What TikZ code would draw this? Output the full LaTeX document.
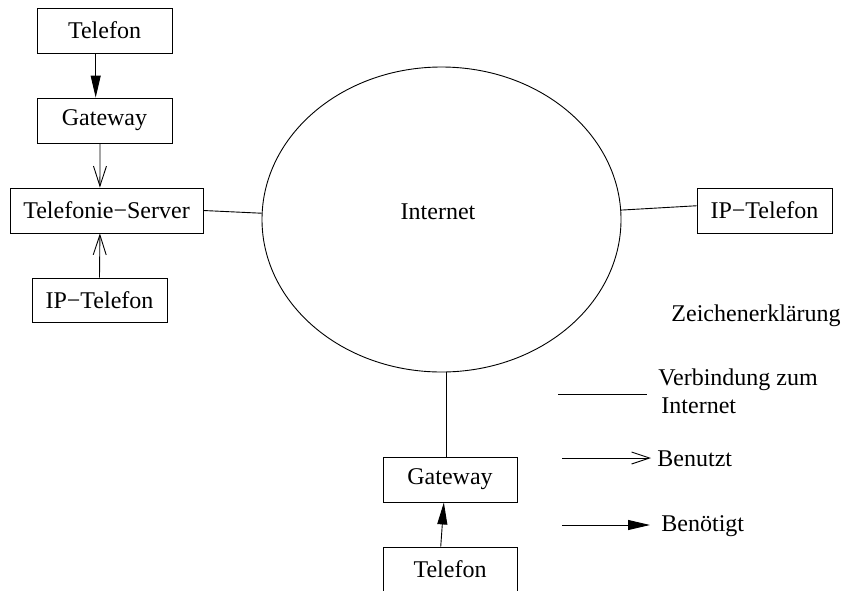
\documentclass[tikz,border=0pt]{standalone}
\usepackage{fontspec}
\setmainfont{Liberation Serif}
\usetikzlibrary{arrows.meta,shapes.geometric}
\begin{document}
\begin{tikzpicture}[x=1pt,y=-1pt,
  font=\fontsize{24}{28}\selectfont,
  line width=0.9pt,
  box/.style={draw,rectangle,inner sep=0pt,minimum height=45pt},
  label/.style={inner sep=0pt,anchor=west},
  uses/.style={-{Straight Barb[length=20pt,width=13pt,line width=0.9pt]}},
  needs/.style={-{Triangle[length=22pt,width=10pt]}}]
\useasboundingbox (0,0) rectangle (843,590);

% devices
\node[box,minimum width=135pt] (tel1) at (104.5,30.5) {Telefon};
\node[box,minimum width=135pt] (gw1) at (104.5,120.5) {Gateway};
\node[box,minimum width=193pt] (srv) at (106.5,210.5) {Telefonie−Server};
\node[box,minimum width=135pt,minimum height=44pt] (ip1) at (99.5,300) {IP−Telefon};
\node[box,minimum width=135pt] (ip2) at (764.5,210.5) {IP−Telefon};
\node[box,minimum width=134pt] (gw2) at (450,479.5) {Gateway};
\node[box,minimum width=134pt] (tel2) at (450,569.5) {Telefon};

% the network cloud
\node[draw,ellipse,inner sep=0pt,minimum width=359pt,minimum height=305pt] (net) at (441.5,219.5) {};
\node[inner sep=0pt] (netlbl) at (438,212) {Internet};

% connections
\draw[needs] (tel1.249) -- (gw1.111);
\draw[uses] (gw1.259) -- (srv.106);
\draw[uses] (ip1.north) -- (srv.254);
\draw (srv.east) -- (net.178);
\draw (net.3) -- (ip2.176);
\draw (gw2.100) -- (gw2.100 |- net.south);
\draw[needs] (tel2.112) -- (gw2.255);

% legend
\node[label] (legtitle) at (671,316) {Zeichenerklärung};
\coordinate (la) at (558,394);
\coordinate (lb) at (647,394);
\draw (la) -- (lb);
\node[label] (lt1) at (658,380) {Verbindung zum};
\node[label] (lt2) at (661,406) {Internet};
\coordinate (ua) at (562,458);
\coordinate (ub) at (651,458);
\node[label] (ut) at (657,459) {Benutzt};
\draw[-{Straight Barb[length=18pt,width=12pt,line width=0.9pt]}] (ua) -- (ub);
\coordinate (na) at (562,525);
\coordinate (nb) at (650,525);
\node[label] (nt) at (661,526) {Benötigt};
\draw[needs] (na) -- (nb);
\end{tikzpicture}
\end{document}
